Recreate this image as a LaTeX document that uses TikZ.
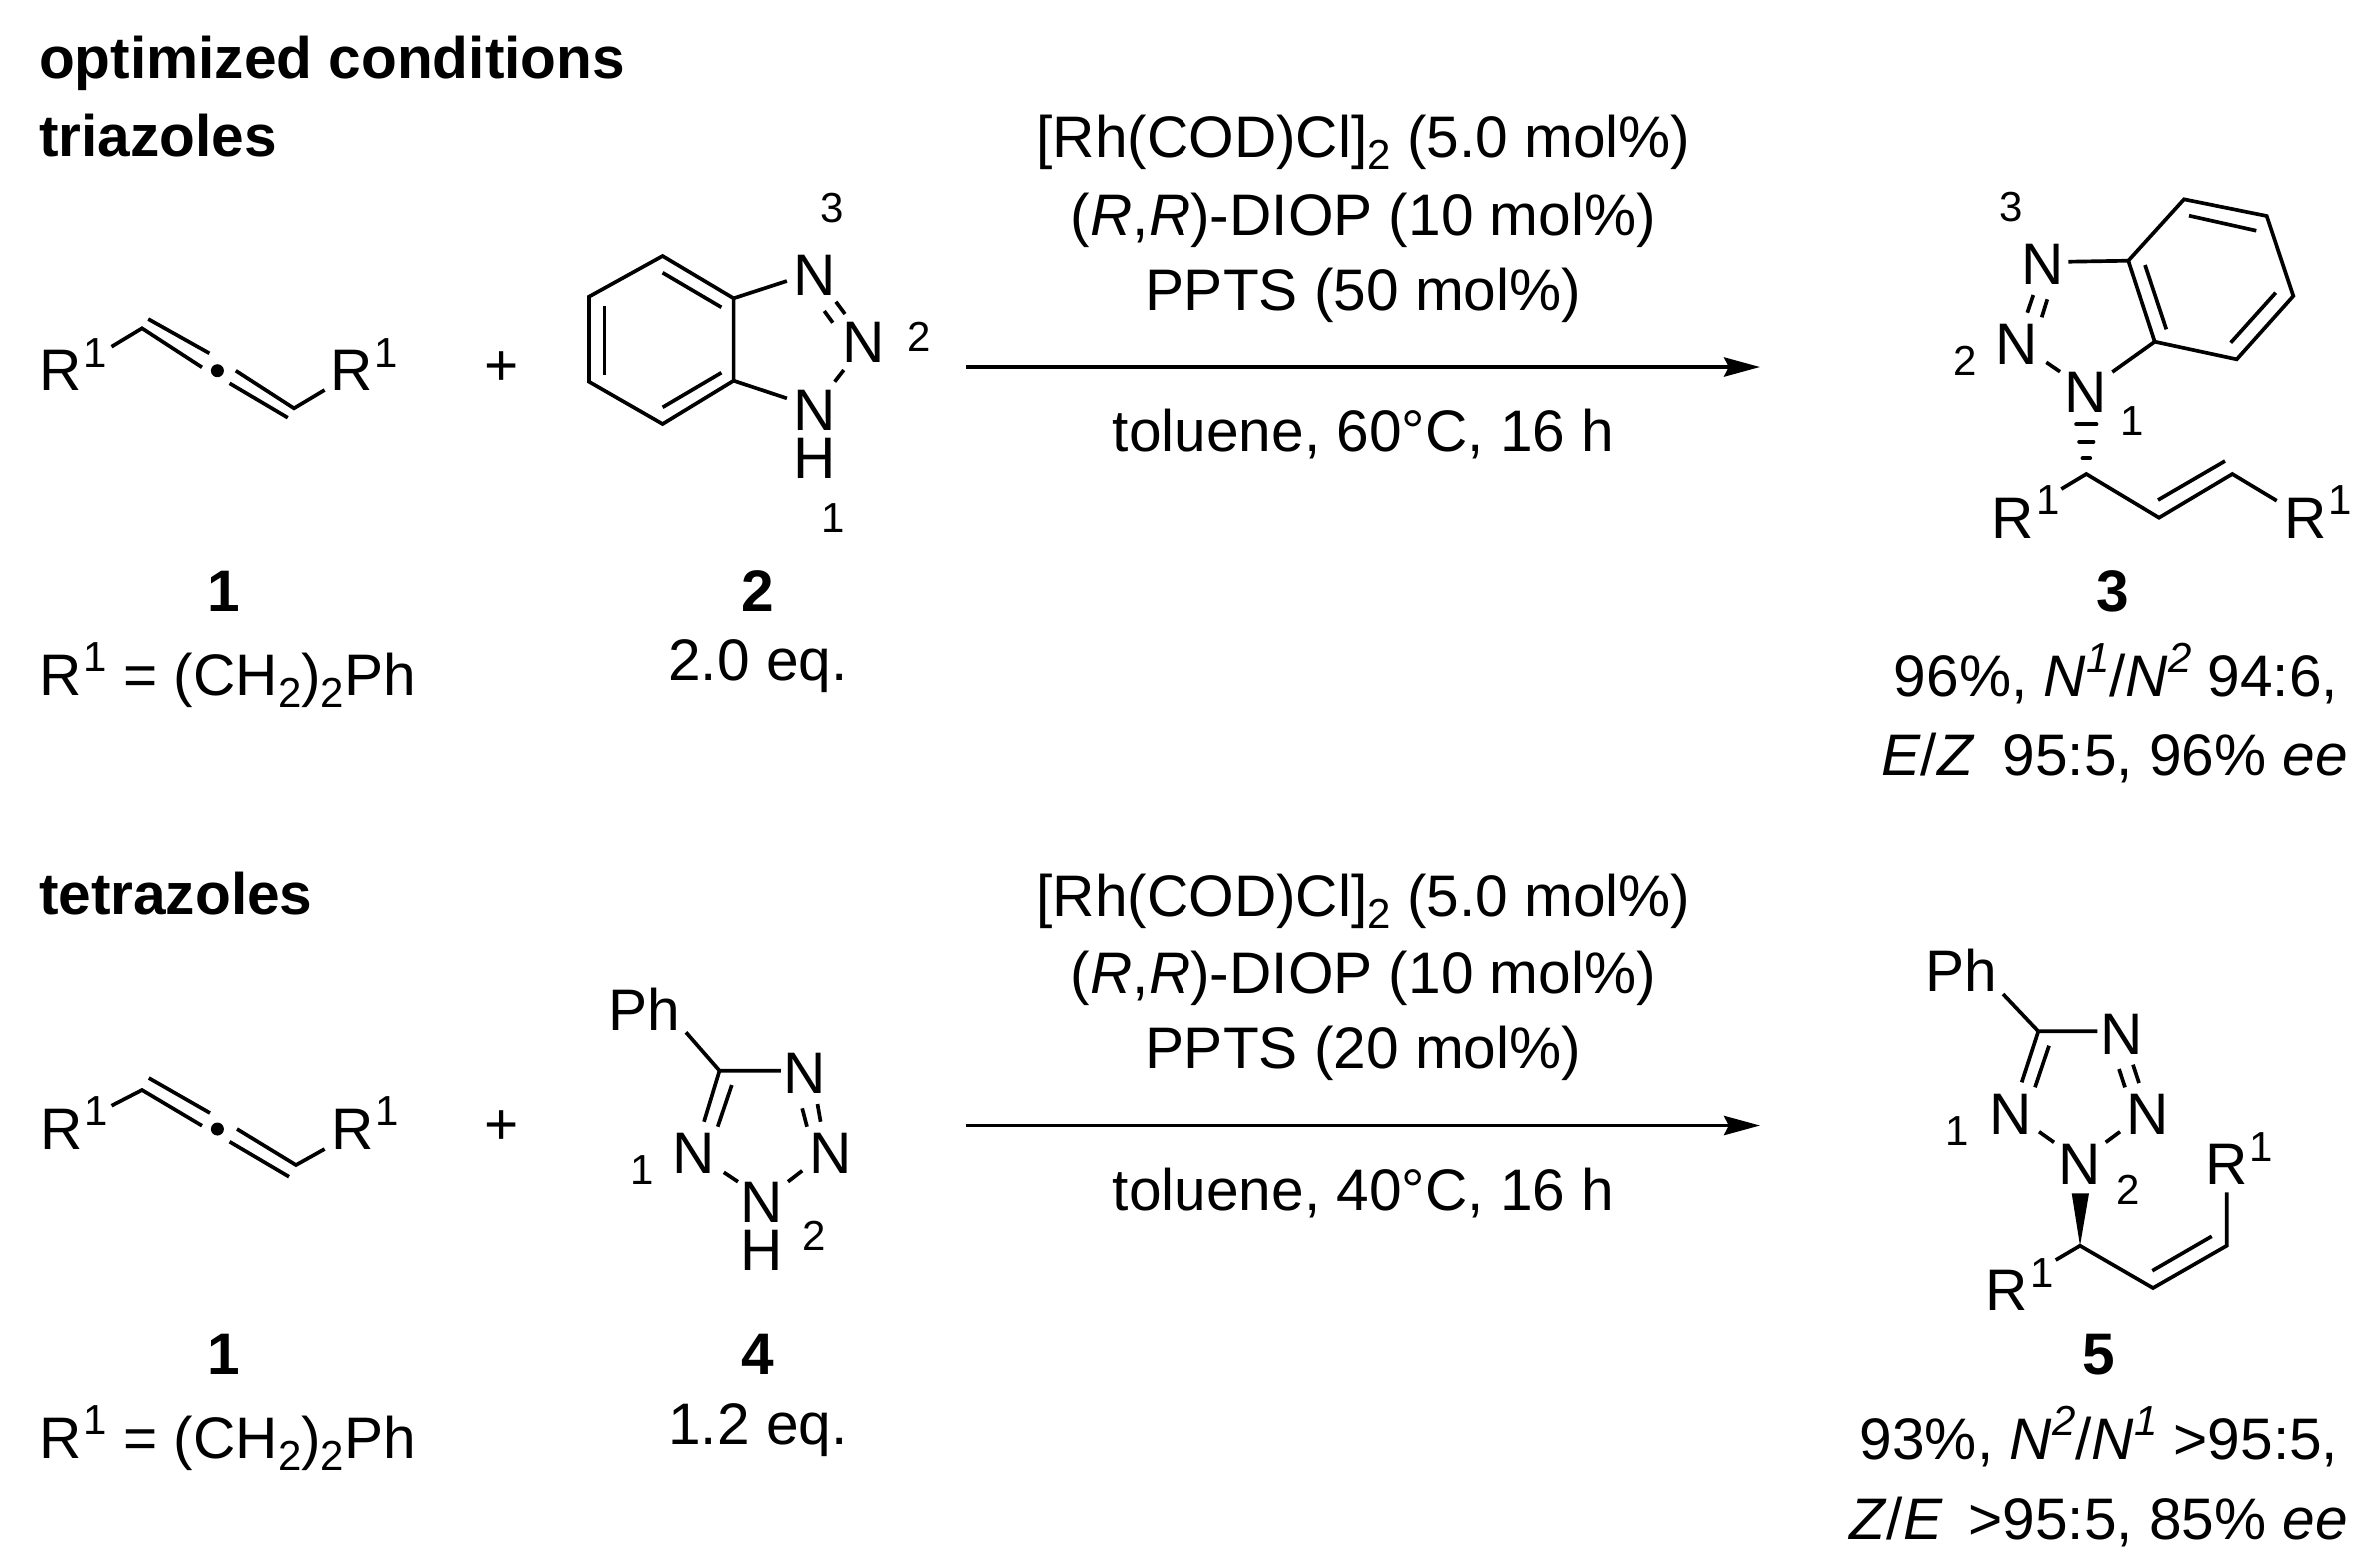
\documentclass[tikz,border=0pt]{standalone}
\usepackage{fontspec}
\setmainfont{Liberation Sans}
\usetikzlibrary{arrows.meta}
\newcommand\myup[1]{\raisebox{5.9pt}{\fontsize{10.5pt}{12pt}\selectfont #1}}
\newcommand\mydown[1]{\raisebox{-3pt}{\fontsize{10.5pt}{12pt}\selectfont #1}}
\newcommand\Rone{R\kern0.6pt\myup{1}}
\tikzset{
  x=0.25pt,y=-0.25pt,
  every node/.style={font=\fontsize{14.65pt}{17pt}\selectfont,inner sep=0pt,outer sep=0pt},
  txt/.style={anchor=base},
  lef/.style={anchor=base west},
  rig/.style={anchor=base east},
  num/.style={anchor=base,font=\fontsize{10.5pt}{12pt}\selectfont},
  bld/.style={anchor=base west,font=\fontsize{14.65pt}{17pt}\selectfont\bfseries},
  bldc/.style={anchor=base,font=\fontsize{14.65pt}{17pt}\selectfont\bfseries},
  bond/.style={line width=0.92pt,line cap=butt,line join=miter},
  rxn/.style={line width=0.95pt,-{Stealth[length=9pt,width=4.8pt,inset=1.2pt]}},
  hash/.style={line width=1.05pt,line cap=round},
}
\begin{document}
\begin{tikzpicture}
\useasboundingbox (0,0) rectangle (2368,1568);
\fill[white] (0,0) rectangle (2368,1568);
% headings
\node[bld] (h1) at (39,78) {optimized conditions};
\node[bld] (h2) at (39,156.5) {triazoles};
\node[bld] (h3) at (39,915) {tetrazoles};
% reagents top
\node[txt] (a1) at (1364,157) {[Rh(COD)Cl]\mydown{2} (5.0 mol\%)};
\node[txt] (a2) at (1364,235) {(\textit{R},\textit{R})-DIOP (10 mol\%)};
\node[txt] (a3) at (1364,310) {PPTS (50 mol\%)};
\node[txt] (a4) at (1364,451) {toluene, 60°C, 16 h};
\coordinate (as) at (966,367); \coordinate (ae) at (1761,367);
\draw[rxn] (as) -- (ae);
% reagents bottom
\node[txt] (b1) at (1364,917) {[Rh(COD)Cl]\mydown{2} (5.0 mol\%)};
\node[txt] (b2) at (1364,994) {(\textit{R},\textit{R})-DIOP (10 mol\%)};
\node[txt] (b3) at (1364,1069.5) {PPTS (20 mol\%)};
\node[txt] (b4) at (1364,1211) {toluene, 40°C, 16 h};
\coordinate (bs) at (966,1126.5); \coordinate (be) at (1761,1126.5);
\draw[rxn] (bs) -- (be);
% compound labels top
\node[bldc] (c1) at (223.5,611) {1};
\node[lef] (c1a) at (39,695) {\Rone{} = (CH\mydown{2})\mydown{2}Ph};
\node[bldc] (c2) at (758,611) {2};
\node[txt] (c2a) at (758,680) {2.0 eq.};
\node[bldc] (c3) at (2114,611) {3};
\node[txt] (c3a) at (2117,696) {96\%, \textit{N}\myup{\textit{1}}/\textit{N}\myup{\textit{2}} 94:6,};
\node[rig] (c3b) at (2349,775) {\textit{E}/\textit{Z}\hspace{0.48em}95:5, 96\% \textit{ee}};
% compound labels bottom
\node[bldc] (d1) at (223.5,1375) {1};
\node[lef] (d1a) at (39,1459) {\Rone{} = (CH\mydown{2})\mydown{2}Ph};
\node[bldc] (d4) at (758,1375) {4};
\node[txt] (d4a) at (758,1445) {1.2 eq.};
\node[bldc] (d5) at (2100,1375) {5};
\node[txt] (d5a) at (2100,1460) {93\%, \textit{N}\myup{\textit{2}}/\textit{N}\myup{\textit{1}} >95:5,};
\node[rig] (d5b) at (2349,1540) {\textit{Z}/\textit{E}\hspace{0.44em}>95:5, 85\% \textit{ee}};
% allene top
\node[lef] (ra1) at (39,390.7) {\Rone};
\node[lef] (ra2) at (330,390.7) {\Rone};
\draw[bond] (111.5,346.7) -- (142,328.3) -- (202,367.3);
\draw[bond] (148.2,319) -- (209.4,353.3);
\fill (217.4,370.7) circle (6.5);
\draw[bond] (235.8,370.7) -- (294,408.3) -- (324.6,390);
\draw[bond] (229.6,383.3) -- (287.8,417.7);
\node[txt] (pl1) at (502,385) {+};
% benzotriazole 2
\draw[bond,line join=miter] (662.6,256) -- (589,296.7) -- (589,381.7) -- (662.6,424) -- (733.6,380.7) -- (733.6,298.3) -- cycle;
\draw[bond] (662.6,272.7) -- (721.4,307.3);
\draw[bond] (604.4,305.7) -- (604.4,375);
\draw[bond] (662.6,407.3) -- (721.4,372.7);
\draw[bond] (733.6,298.3) -- (786.9,281);
\draw[bond] (733.6,380.7) -- (786.9,398.3);
\draw[bond] (824.3,311) -- (832.8,322.7);
\draw[bond] (835.9,301.7) -- (845,314);
\draw[bond] (843.8,370) -- (834.7,381.7);
\node[txt] (n3a) at (815,295) {N};
\node[txt] (n2a) at (863.5,362.3) {N};
\node[txt] (n1a) at (815,430) {N};
\node[txt] (h1a) at (815,478.3) {H};
\node[num] (l3a) at (832,222) {3};
\node[num] (l2a) at (919,351.7) {2};
\node[num] (l1a) at (833,532.7) {1};
% product 3
\draw[bond] (2129.3,260.7) -- (2185,199.3) -- (2267.7,216) -- (2294.3,296) -- (2237.7,359.3) -- (2155.7,341.7) -- cycle;
\draw[bond] (2190,215.7) -- (2257.3,230.7);
\draw[bond] (2276.7,292.7) -- (2231.7,342.7);
\draw[bond] (2146,265) -- (2167.3,329.3);
\draw[bond] (2069.3,261.7) -- (2129.3,260.7);
\draw[bond] (2034.3,295) -- (2028.3,312.7);
\draw[bond] (2048.3,299.3) -- (2042.7,317.3);
\draw[bond] (2047.3,362.3) -- (2061,371.7);
\draw[bond] (2113.3,372) -- (2155.7,341.7);
\draw[hash] (2077.3,424.3) -- (2097.3,424.3);
\draw[hash] (2080.3,441.7) -- (2094.3,441.7);
\draw[hash] (2083.6,458.3) -- (2091,458.3);
\draw[bond] (2062.3,489) -- (2087.3,474) -- (2160,517.7) -- (2233.3,474) -- (2277.7,500.7);
\draw[bond] (2159,500) -- (2226,461);
\node[txt] (n3b) at (2044,284.3) {N};
\node[txt] (n2b) at (2018,364.3) {N};
\node[txt] (n1b) at (2086.7,412.7) {N};
\node[num] (l3b) at (2011.7,221) {3};
\node[num] (l2b) at (1965.7,375) {2};
\node[num] (l1b) at (2133,435) {1};
\node[lef] (rb1) at (1992.7,538.3) {\Rone};
\node[lef] (rb2) at (2285,538.3) {\Rone};
% allene bottom
\node[lef] (rc1) at (40,1150) {\Rone};
\node[lef] (rc2) at (331,1150) {\Rone};
\draw[bond] (111.5,1106.7) -- (142,1091) -- (202,1126.7);
\draw[bond] (148.8,1079) -- (210,1114);
\fill (217.4,1130) circle (6.5);
\draw[bond] (237,1130) -- (296,1166) -- (324.6,1150);
\draw[bond] (229.6,1142.7) -- (289,1177.7);
\node[txt] (pl2) at (502,1145) {+};
% tetrazole 4
\node[txt] (ph4) at (644,1031) {Ph};
\draw[bond] (686,1033.3) -- (719.5,1071.7) -- (780.8,1071.7);
\draw[bond] (719.5,1071.7) -- (704,1122.7);
\draw[bond] (731.8,1086) -- (717.7,1127.7);
\draw[bond] (802.2,1109.3) -- (807,1127.7);
\draw[bond] (817.5,1105) -- (820.6,1122.7);
\draw[bond] (723.8,1173.3) -- (738,1182.7);
\draw[bond] (802.2,1171.7) -- (788,1182.7);
\node[txt] (n4t) at (804.7,1094) {N};
\node[txt] (n4l) at (693.5,1174) {N};
\node[txt] (n4r) at (830.7,1174) {N};
\node[txt] (n4c) at (761.5,1223.3) {N};
\node[txt] (h4) at (761.5,1271.7) {H};
\node[num] (l1c) at (641.8,1185) {1};
\node[num] (l2c) at (814.5,1251.7) {2};
% product 5
\node[txt] (ph5) at (1962.5,992.3) {Ph};
\draw[bond] (2004,995) -- (2039.3,1032.3) -- (2098.3,1032.3);
\draw[bond] (2039.3,1032.3) -- (2022.7,1083.3);
\draw[bond] (2050,1046.7) -- (2036,1088.3);
\draw[bond] (2120,1070) -- (2126,1088.3);
\draw[bond] (2134,1065.7) -- (2140,1084);
\draw[bond] (2040,1132.7) -- (2055,1143.3);
\draw[bond] (2106.7,1143.3) -- (2121,1132.7);
\fill (2072.7,1194.3) -- (2090,1194.3) -- (2081,1246.7) -- cycle;
\draw[bond] (2056.7,1261) -- (2081,1246.7) -- (2154,1289) -- (2227.7,1246.7) -- (2227.7,1193.3);
\draw[bond] (2153.3,1271.7) -- (2212.7,1237.3);
\node[txt] (n5t) at (2123,1055) {N};
\node[txt] (n5l) at (2011.7,1135) {N};
\node[txt] (n5r) at (2148.7,1135) {N};
\node[txt] (n5c) at (2081,1185) {N};
\node[num] (l1d) at (1958.3,1146) {1};
\node[num] (l2d) at (2129.3,1205) {2};
\node[lef] (rd1) at (1986.7,1311.7) {\Rone};
\node[lef] (rd2) at (2206,1185.7) {\Rone};
\end{tikzpicture}
\end{document}
